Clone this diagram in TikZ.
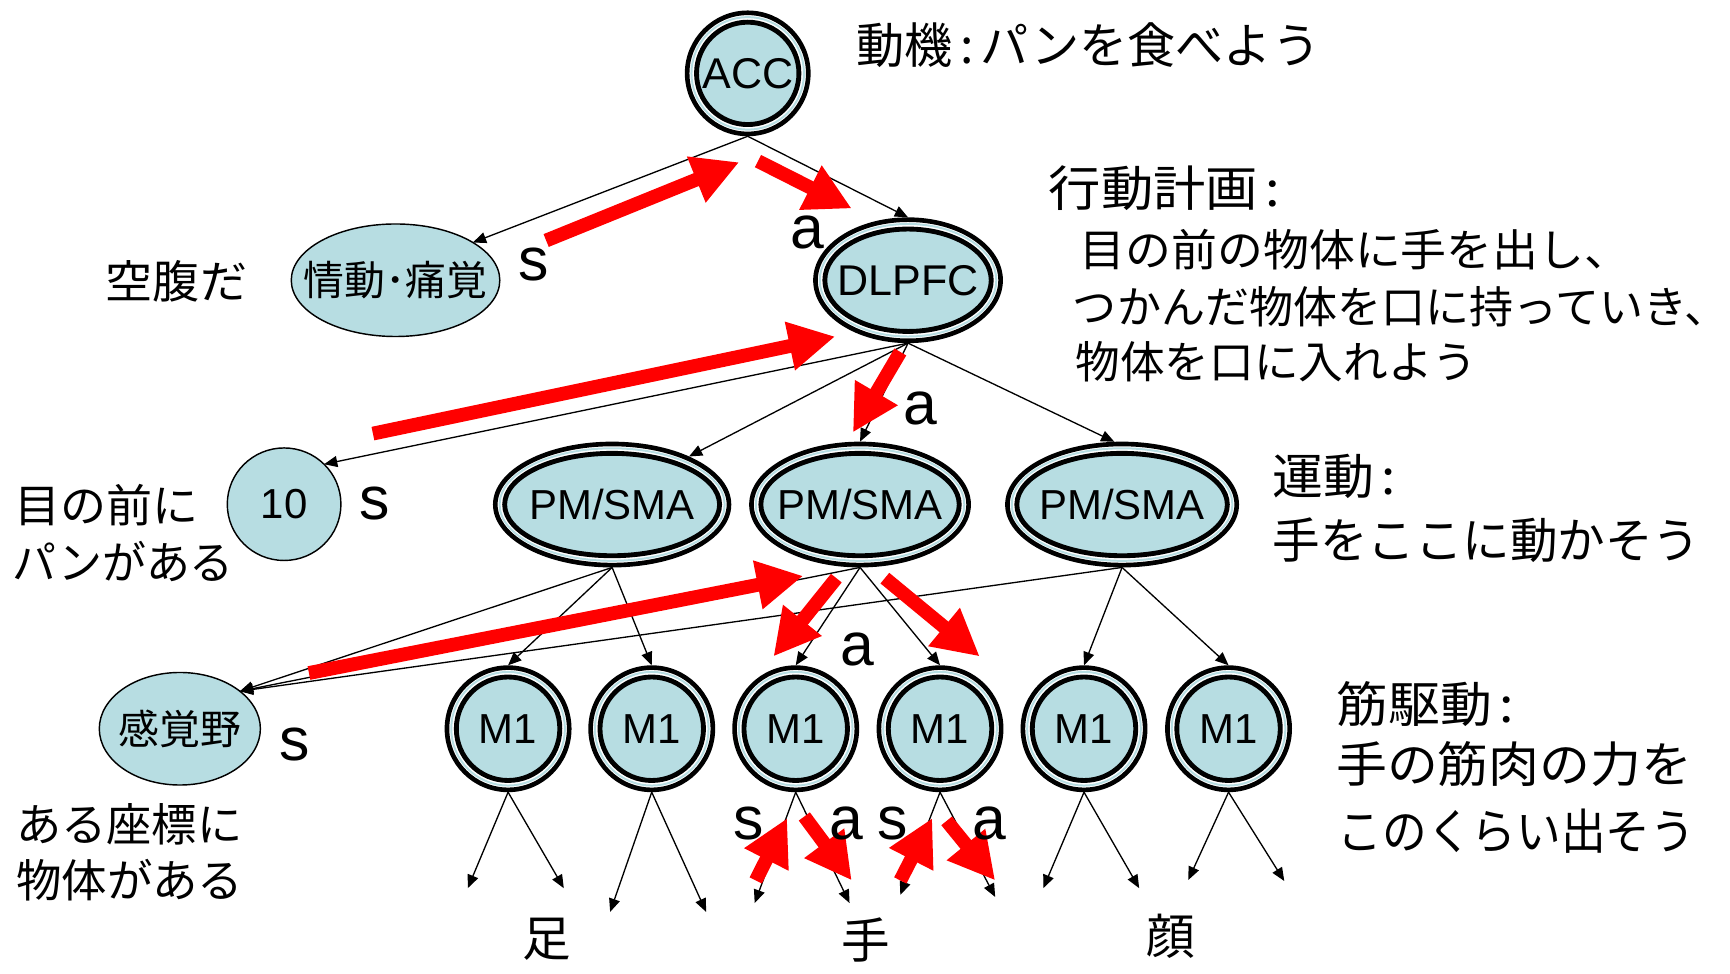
\documentclass[tikz,border=0pt]{standalone}
\usepackage{graphicx}
\usepackage{fontspec}
\setmainfont{Liberation Sans}
\newfontfamily\jp{Noto Sans CJK JP}
\usetikzlibrary{arrows.meta,shapes.geometric}
\definecolor{nodeblue}{RGB}{183,221,226}
\newcommand{\ringnode}[7]{%
  \fill[white] (#2,#3) ellipse [x radius=#4pt, y radius=#5pt];
  \draw[line width=4.2pt] (#2,#3) ellipse [x radius=#4pt-2.1pt, y radius=#5pt-2.1pt];
  \draw[nodeblue, line width=1.8pt] (#2,#3) ellipse [x radius=#4pt-6pt, y radius=#5pt-6pt];
  \draw[line width=4.4pt, fill=nodeblue] (#2,#3) ellipse [x radius=#4pt-10.6pt, y radius=#5pt-10.6pt];
  \node[ellipse, inner sep=0pt, outer sep=0pt, minimum width=2*#4pt, minimum height=2*#5pt,
        font=\fontsize{#6}{#6}\selectfont] (#1) at (#2,#3) {\makebox[0pt]{#7}};
}
\tikzset{
  conn/.style={line width=1.2pt, -{Triangle[length=12pt,width=10pt]}},
  redarr/.style={draw=red, line width=12.5pt, -{Triangle[length=42pt,width=42pt]}},
  plainnode/.style={ellipse, draw, line width=1.3pt, fill=nodeblue, inner sep=0pt, outer sep=0pt},
  jpline/.style={anchor=west, inner sep=0pt, outer sep=0pt},
  jpA/.style={jpline, font=\jp\fontsize{44}{48}\selectfont},
  jpB/.style={jpline, font=\jp\fontsize{40}{44}\selectfont},
  jpC/.style={jpline, font=\jp\fontsize{41}{45}\selectfont},
  bodypart/.style={inner sep=0pt, font=\jp\fontsize{44}{48}\selectfont},
  salabel/.style={anchor=base, inner sep=0pt, font=\fontsize{55}{60}\selectfont},
}
\begin{document}
\begin{tikzpicture}[x=1pt,y=-1pt]
\useasboundingbox (0,0) rectangle (1568,882);
\fill[white] (0,0) rectangle (1568,882);

% ---- nodes ----
\ringnode{acc}{677.7}{66.5}{57}{57}{39}{ACC}
\ringnode{dlpfc}{823}{254}{86}{57}{39}{DLPFC}
\ringnode{pma}{554.8}{457.3}{108}{57}{38}{PM/SMA}
\ringnode{pmb}{779.5}{457.3}{100.5}{57}{38}{PM/SMA}
\ringnode{pmc}{1017}{457.3}{106}{57}{38}{PM/SMA}
\ringnode{ma}{460.5}{660.5}{57.5}{57.5}{38}{M1}
\ringnode{mb}{590.7}{660.5}{57.5}{57.5}{38}{M1}
\ringnode{mc}{721.2}{660.5}{57.5}{57.5}{38}{M1}
\ringnode{md}{852}{660.5}{57.5}{57.5}{38}{M1}
\ringnode{me}{982.5}{660.5}{57.5}{57.5}{38}{M1}
\ringnode{mf}{1113.5}{660.5}{57.5}{57.5}{38}{M1}

\node[plainnode, minimum width=189pt, minimum height=102pt, font=\jp\fontsize{37}{40}\selectfont] (emo) at (358.5,254) {\makebox[0pt]{情動･痛覚}};
\node[plainnode, minimum width=103pt, minimum height=102pt, font=\fontsize{38}{40}\selectfont] (ten) at (257.5,457) {\makebox[0pt]{10}};
\node[plainnode, minimum width=146pt, minimum height=102pt, font=\jp\fontsize{37}{40}\selectfont] (kak) at (163,660.5) {\makebox[0pt]{感覚野}};

% ---- free ends below M1 ----
\coordinate (a1) at (424,805);   \coordinate (a2) at (511,805);
\coordinate (b1) at (553,826.5); \coordinate (b2) at (640,826.5);
\coordinate (c1) at (684,818.5); \coordinate (c2) at (770,818.5);
\coordinate (d1) at (816,811);   \coordinate (d2) at (902,813);
\coordinate (e1) at (945.6,805); \coordinate (e2) at (1032.5,805);
\coordinate (f1) at (1077,797.6);\coordinate (f2) at (1164,798.5);

% ---- black connectors ----
\draw[conn] (acc.south) -- (emo.26);
\draw[conn] (acc.south) -- (dlpfc.north);
\draw[conn] (dlpfc.south) -- (ten.45);
\draw[conn] (dlpfc.south) -- (pma.32);
\draw[conn] (dlpfc.south) -- (pmb.north);
\draw[conn] (dlpfc.south) -- (pmc.97);
\draw[conn] (pma.south) -- (kak.32);
\draw[conn] (pmb.south) -- (kak.32);
\draw[conn] (pmc.south) -- (kak.32);
\draw[conn] (pma.south) -- (ma.north);
\draw[conn] (pma.south) -- (mb.north);
\draw[conn] (pmb.south) -- (mc.north);
\draw[conn] (pmb.south) -- (md.north);
\draw[conn] (pmc.south) -- (me.north);
\draw[conn] (pmc.south) -- (mf.north);
\draw[conn] (ma.south) -- (a1);
\draw[conn] (ma.south) -- (a2);
\draw[conn] (mb.south) -- (b1);
\draw[conn] (mb.south) -- (b2);
\draw[conn] (mc.south) -- (c1);
\draw[conn] (mc.south) -- (c2);
\draw[conn] (md.south) -- (d1);
\draw[conn] (md.south) -- (d2);
\draw[conn] (me.south) -- (e1);
\draw[conn] (me.south) -- (e2);
\draw[conn] (mf.south) -- (f1);
\draw[conn] (mf.south) -- (f2);

% ---- red arrows ----
\coordinate (r1s) at (495,218);  \coordinate (r1e) at (670,147);
\coordinate (r2s) at (687,146);  \coordinate (r2e) at (772,189);
\coordinate (r3s) at (338,393);  \coordinate (r3e) at (757,305);
\coordinate (r4s) at (816,319);  \coordinate (r4e) at (773,392);
\coordinate (r5s) at (280,610);  \coordinate (r5e) at (728,522);
\coordinate (r6s) at (758,524);  \coordinate (r6e) at (701,595);
\coordinate (r7s) at (802,524);  \coordinate (r7e) at (888,595);
\coordinate (r8s) at (685,798);  \coordinate (r8e) at (713.5,741.5);
\coordinate (r9s) at (729,740);  \coordinate (r9e) at (772,798);
\coordinate (r10s) at (816,798); \coordinate (r10e) at (845,741.5);
\coordinate (r11s) at (858,744); \coordinate (r11e) at (902,798);
\foreach \i in {1,...,11} {\draw[redarr] (r\i s) -- (r\i e);}

% ---- s / a labels ----
\node[salabel] (l1) at (484,254) {s};
\node[salabel] (l2) at (732,225) {a};
\node[salabel] (l3) at (834,385) {a};
\node[salabel] (l4) at (340,471) {s};
\node[salabel] (l5) at (267,689.5) {s};
\node[salabel] (l6) at (777,603) {a};
\node[salabel] (l7) at (679,761) {s};
\node[salabel] (l8) at (767,761) {a};
\node[salabel] (l9) at (809,761) {s};
\node[salabel] (l10) at (897,761) {a};

% ---- Japanese texts ----
\node[jpA] (t1) at (776.6,40.5) {\resizebox{420pt}{\height}{動機\hspace{0.15em}:\hspace{0.15em}パンを食べよう}};
\node[jpA] (t2) at (950.6,170.5) {\resizebox{210pt}{\height}{行動計画\hspace{0.15em}:}};
\node[jpB] (t3) at (978.7,226) {\resizebox{499pt}{\height}{目の前の物体に手を出し、}};
\node[jpB] (t4) at (972.5,278) {\resizebox{594pt}{\height}{つかんだ物体を口に持っていき、}};
\node[jpB] (t5) at (975,328) {\resizebox{364pt}{\height}{物体を口に入れよう}};
\node[jpA] (t6) at (1153.3,432) {\resizebox{112pt}{\height}{運動\hspace{0.15em}:}};
\node[jpA] (t7) at (1153.3,489.5) {\resizebox{388pt}{\height}{手をここに動かそう}};
\node[jpA] (t8) at (1211.6,638) {\resizebox{161pt}{\height}{筋駆動\hspace{0.15em}:}};
\node[jpA] (t9) at (1211,692.6) {\resizebox{323pt}{\height}{手の筋肉の力を}};
\node[jpA] (t10) at (1212.5,753.5) {\resizebox{324pt}{\height}{このくらい出そう}};
\node[jpC] (t11) at (96,255) {\resizebox{128pt}{\height}{空腹だ}};
\node[jpC] (t12) at (13,458) {\resizebox{167pt}{\height}{目の前に}};
\node[jpC] (t13) at (11,509) {\resizebox{201pt}{\height}{パンがある}};
\node[jpC] (t14) at (14.6,747) {\resizebox{205pt}{\height}{ある座標に}};
\node[jpC] (t15) at (14.6,798) {\resizebox{206pt}{\height}{物体がある}};

\node[bodypart] (foot) at (495.6,851.7) {足};
\node[bodypart] (hand) at (784.5,852) {手};
\node[bodypart] (face) at (1061,849) {顔};
\end{tikzpicture}
\end{document}
